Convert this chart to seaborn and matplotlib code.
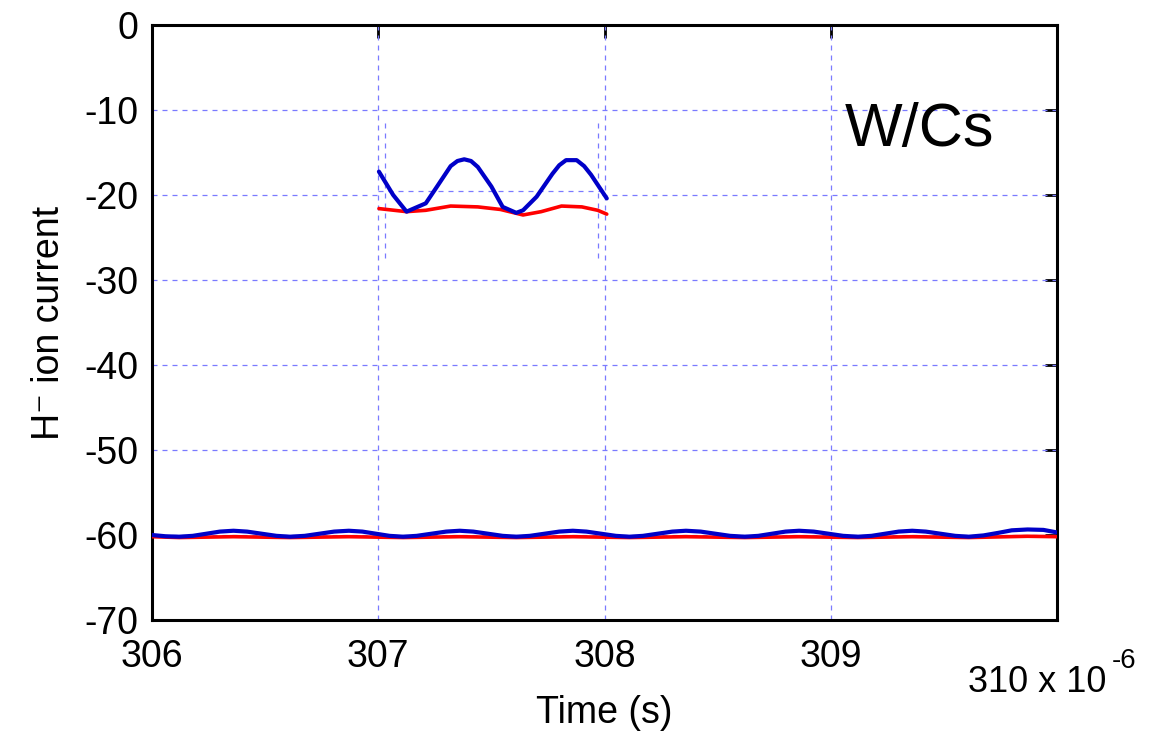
import numpy as np
import pandas as pd
import matplotlib
matplotlib.use("Agg")
import matplotlib.pyplot as plt
import seaborn as sns
from matplotlib.patches import Rectangle

# ── data (time in us, current in a.u.) ──
t_blue_full = [306.00, 306.06, 306.12, 306.18, 306.24, 306.30, 306.36, 306.42,
               306.485, 306.55, 306.61, 306.675, 306.74, 306.805, 306.87, 306.93,
               306.99, 307.05, 307.11, 307.17, 307.235, 307.30, 307.36, 307.42,
               307.485, 307.55, 307.61, 307.67, 307.735, 307.80, 307.86, 307.92,
               307.985, 308.05, 308.11, 308.17, 308.235, 308.30, 308.36, 308.425,
               308.49, 308.555, 308.62, 308.68, 308.74, 308.80, 308.86, 308.925,
               308.99, 309.055, 309.12, 309.18, 309.24, 309.30, 309.36, 309.42,
               309.485, 309.55, 309.61, 309.675, 309.74, 309.80, 309.87, 309.94,
               310.00]
blue_full = [-60.0, -60.15, -60.2, -60.1, -59.85, -59.6, -59.5, -59.6,
             -59.85, -60.1, -60.2, -60.1, -59.85, -59.6, -59.5, -59.6,
             -59.85, -60.1, -60.2, -60.1, -59.85, -59.6, -59.5, -59.6,
             -59.85, -60.1, -60.2, -60.1, -59.85, -59.6, -59.5, -59.6,
             -59.85, -60.1, -60.2, -60.1, -59.85, -59.6, -59.5, -59.6,
             -59.85, -60.1, -60.2, -60.1, -59.85, -59.6, -59.5, -59.6,
             -59.85, -60.1, -60.2, -60.1, -59.85, -59.6, -59.5, -59.6,
             -59.85, -60.1, -60.2, -60.05, -59.75, -59.45, -59.35, -59.4,
             -59.7]

t_red_full = [306.00, 306.12, 306.36, 306.61, 306.87, 307.11, 307.36, 307.61,
              307.86, 308.11, 308.36, 308.62, 308.86, 309.12, 309.36, 309.61,
              309.87, 310.00]
red_full = [-60.2, -60.3, -60.2, -60.3, -60.2, -60.3, -60.2, -60.3,
            -60.2, -60.3, -60.2, -60.3, -60.2, -60.3, -60.2, -60.3,
            -60.15, -60.2]

t_blue_in = [307.003, 307.066, 307.125, 307.21, 307.26, 307.32, 307.35, 307.38,
             307.41, 307.44, 307.50, 307.55, 307.61, 307.64, 307.70, 307.77,
             307.80, 307.83, 307.877, 307.91, 307.94, 308.01]
blue_in = [-17.25, -20.0, -21.96, -20.98, -19.0, -16.6, -16.0, -15.8,
           -16.0, -16.7, -19.0, -21.4, -22.1, -21.8, -20.2, -17.5,
           -16.5, -15.9, -15.9, -16.6, -17.6, -20.4]
t_red_in = [307.003, 307.125, 307.21, 307.32, 307.44, 307.54, 307.64, 307.72,
            307.81, 307.90, 307.97, 308.01]
red_in = [-21.6, -21.96, -21.8, -21.3, -21.4, -21.7, -22.35, -21.96,
          -21.3, -21.4, -21.8, -22.25]

x_ticks = [306, 307, 308, 309, 310]
x_labels = ['306', '307', '308', '309', '']
y_ticks = [0, -10, -20, -30, -40, -50, -60, -70]

BLUE = '#0000C8'
RED = '#FF0000'
GRID = '#7a7aff'

sns.set_style("white")
plt.rcParams['font.family'] = ['Liberation Sans', 'DejaVu Sans']
plt.rcParams['axes.unicode_minus'] = False
plt.rcParams['text.color'] = 'black'
plt.rcParams['axes.labelcolor'] = 'black'
plt.rcParams['xtick.color'] = 'black'
plt.rcParams['ytick.color'] = 'black'

fig = plt.figure(figsize=(11.71, 7.32), dpi=100)
ax = fig.add_axes([152/1171, 1 - 620/732, (1057-152)/1171, (620-25)/732])

# grid
dash = (0, (4, 4))
for xv in [307, 308, 309]:
    ax.axvline(xv, color=GRID, lw=0.9, ls=dash, zorder=1)
for yv in [-10, -20, -30, -40, -50, -60]:
    ax.axhline(yv, color=GRID, lw=0.9, ls=dash, zorder=1)

# inner (pasted) trace box
ax.add_patch(Rectangle((307.01, -28.8), 0.98, 17.4, facecolor='white',
                       edgecolor='none', zorder=1.5))
ax.plot([307.03, 307.03], [-11.5, -28.0], color=GRID, lw=0.9, ls=dash, zorder=1.6)
ax.plot([307.97, 307.97], [-11.5, -28.0], color=GRID, lw=0.9, ls=dash, zorder=1.6)
ax.plot([307.0, 308.0], [-19.5, -19.5], color=GRID, lw=0.9, ls=dash, zorder=1.6)

# traces
sns.lineplot(x=t_red_full, y=red_full, color=RED, lw=2.6, ax=ax, zorder=3)
sns.lineplot(x=t_blue_full, y=blue_full, color=BLUE, lw=3.0, ax=ax, zorder=4)
sns.lineplot(x=t_red_in, y=red_in, color=RED, lw=2.6, ax=ax, zorder=3)
sns.lineplot(x=t_blue_in, y=blue_in, color=BLUE, lw=3.0, ax=ax, zorder=4)

ax.set_xlim(306, 310)
ax.set_ylim(-70, 0)
ax.set_xticks(x_ticks)
ax.set_xticklabels(x_labels)
ax.set_yticks(y_ticks)
ax.tick_params(direction='in', length=9, width=2, labelsize=27,
               top=True, right=True, pad=10)
ax.tick_params(axis='x', pad=14)
for s in ax.spines.values():
    s.set_linewidth(2.2)
    s.set_color('black')

ax.set_xlabel('Time (s)', fontsize=27, labelpad=14)
ax.set_ylabel('H\u207B ion current', fontsize=27, labelpad=12)

ax.text(0.765, 0.823, 'W/Cs', transform=ax.transAxes, fontsize=44,
        ha='left', va='center')
fig.text(968/1171, 1 - 692/732, '310 x 10', fontsize=26,
         ha='left', va='baseline')
fig.text(1112/1171, 1 - 668/732, '-6', fontsize=20,
         ha='left', va='baseline')

fig.savefig('out.png', dpi=100)
